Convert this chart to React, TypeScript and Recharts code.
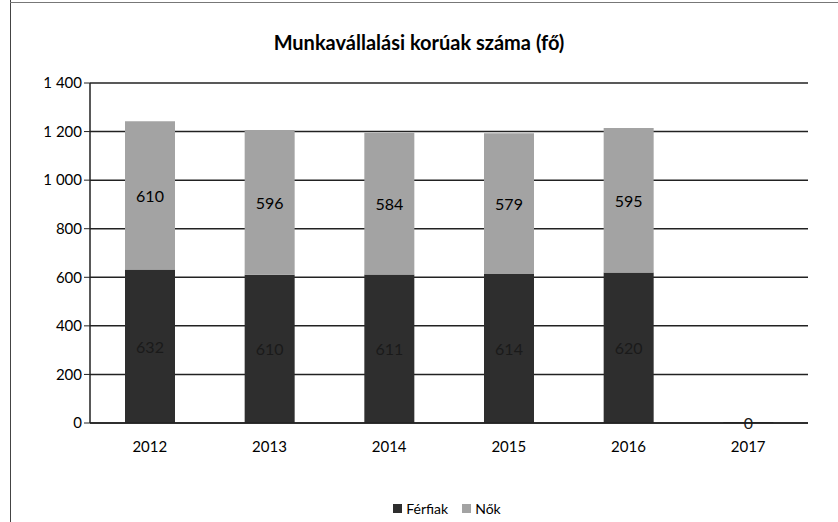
import { BarChart, Bar, XAxis, YAxis, CartesianGrid, LabelList } from "recharts";

const years = ["2012", "2013", "2014", "2015", "2016", "2017"];
const ferfiak = [632, 610, 611, 614, 620, 0];
const nok: (number | null)[] = [610, 596, 584, 579, 595, null];
const yTicks = [0, 200, 400, 600, 800, 1000, 1200, 1400];

const data = years.map((year, i) => ({ year, ferfiak: ferfiak[i], nok: nok[i] }));

const font = "Lato, 'Open Sans', sans-serif";

const fmt = (v: number) => (v >= 1000 ? `${Math.floor(v / 1000)} ${String(v % 1000).padStart(3, "0")}` : String(v));

// draws the value even when the bar segment has almost no height (2017 = 0)
const centerLabel = (color: string) => (props: any) => {
  const { x, y, width, height, value } = props;
  if (value === null || value === undefined) return null;
  return (
    <text
      x={Number(x) + Number(width) / 2}
      y={Number(y) + Number(height) / 2}
      textAnchor="middle"
      dominantBaseline="central"
      fill={color}
      fontSize={16}
      fontFamily={font}
    >
      {value}
    </text>
  );
};

export default function App() {
  return (
    <div style={{ position: "absolute", left: 0, top: 0, width: 838, height: 522, background: "#fff", fontFamily: font }}>
      <div style={{ position: "absolute", left: 10, top: 0, width: 1, height: 522, background: "#444" }} />
      <div style={{ position: "absolute", left: 10, top: 2, width: 828, height: 1, background: "#777" }} />
      <div style={{ position: "absolute", left: 0, top: 30, width: 838, textAlign: "center", fontSize: 20, fontWeight: 700, color: "#000" }}>
        Munkavállalási korúak száma (fő)
      </div>
      <BarChart width={838} height={522} data={data} margin={{ top: 83, right: 30, left: 0, bottom: 69 }}>
        <CartesianGrid vertical={false} stroke="#222" strokeWidth={1.5} />
        <XAxis
          dataKey="year"
          axisLine={{ stroke: "#222", strokeWidth: 1.5 }}
          tickLine={false}
          tick={{ fontSize: 15, fill: "#000", fontFamily: font }}
          tickMargin={12}
          height={30}
        />
        <YAxis
          domain={[0, 1400]}
          ticks={yTicks}
          tickFormatter={fmt}
          axisLine={{ stroke: "#222", strokeWidth: 1.5 }}
          tickLine={{ stroke: "#222" }}
          tickSize={6}
          tick={{ fontSize: 15, fill: "#000", fontFamily: font }}
          width={90}
        />
        <Bar dataKey="ferfiak" stackId="a" fill="#2e2e2e" barSize={50} minPointSize={1} isAnimationActive={false}>
          <LabelList dataKey="ferfiak" content={centerLabel("#1a1a1a")} />
        </Bar>
        <Bar dataKey="nok" stackId="a" fill="#a3a3a3" barSize={50} isAnimationActive={false}>
          <LabelList dataKey="nok" content={centerLabel("#000")} />
        </Bar>
      </BarChart>
      <div style={{ position: "absolute", left: 0, top: 500, width: 838, display: "flex", justifyContent: "center", gap: 14, fontSize: 14, color: "#000", transform: "translateX(28px)" }}>
        <span style={{ display: "flex", alignItems: "center", gap: 4 }}>
          <span style={{ width: 9, height: 9, background: "#2e2e2e", display: "inline-block" }} />Férfiak
        </span>
        <span style={{ display: "flex", alignItems: "center", gap: 4 }}>
          <span style={{ width: 9, height: 9, background: "#a3a3a3", display: "inline-block" }} />Nők
        </span>
      </div>
    </div>
  );
}
